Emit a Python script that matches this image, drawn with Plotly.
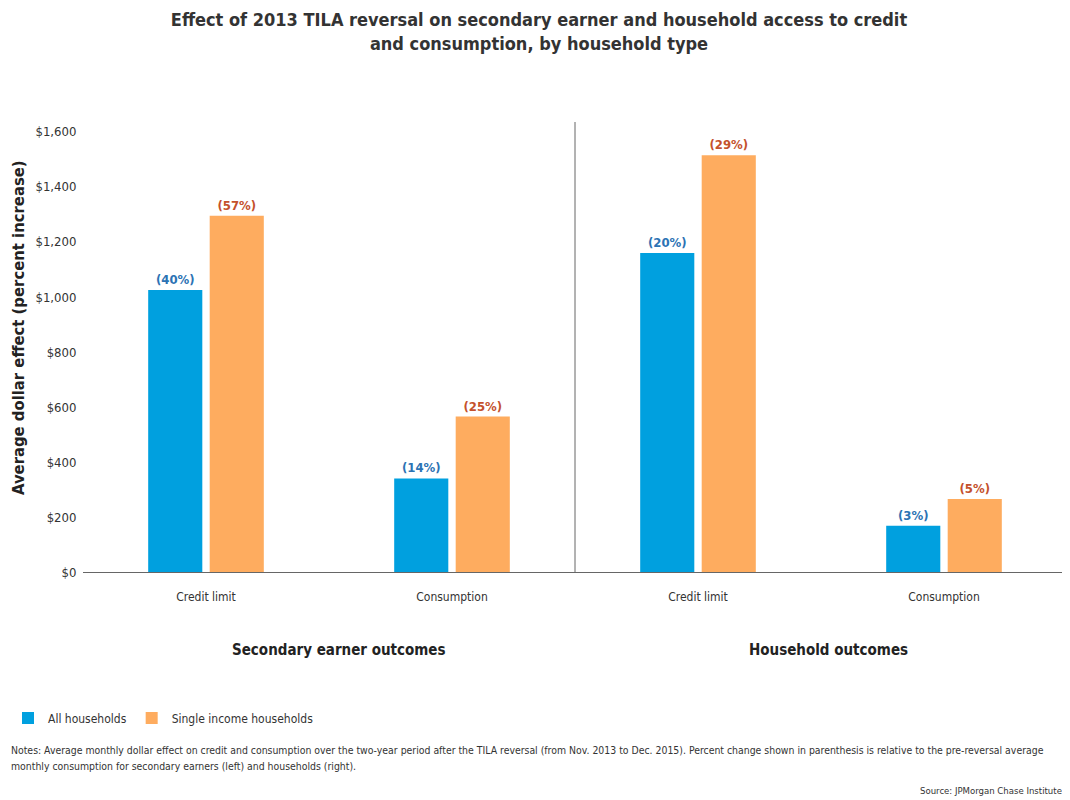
import plotly.graph_objects as go

groups = ["Secondary earner outcomes", "Household outcomes"]
categories = ["Credit limit", "Consumption", "Credit limit", "Consumption"]
category_group = [0, 0, 1, 1]
all_households = [1025, 340, 1160, 168]
single_income = [1295, 565, 1515, 265]
all_pct = ["(40%)", "(14%)", "(20%)", "(3%)"]
single_pct = ["(57%)", "(25%)", "(29%)", "(5%)"]
y_ticks = [0, 200, 400, 600, 800, 1000, 1200, 1400, 1600]
y_ticktext = ["$" + format(v, ",") for v in y_ticks]

FONT = "DejaVu Sans Condensed, Liberation Sans Narrow, sans-serif"

x_ids = [groups[g] + " | " + c for g, c in zip(category_group, categories)]

# page body adds an 8px margin, so the figure is laid out 8px smaller
OFF = 8
W, H = 1070 - OFF, 800 - OFF
L, T = 83 - OFF, 122 - OFF
PB = 572 - OFF            # plot bottom (px)
PR = 1067 - OFF           # plot right (px)
R, B = W - PR, H - PB
pw, ph = PR - L, PB - T


def py(y_screen):
    """paper y from reference screen pixel"""
    return (PB - (y_screen - OFF)) / ph


def px(x_screen):
    return ((x_screen - OFF) - L) / pw


fig = go.Figure()
fig.add_trace(go.Bar(
    x=x_ids, y=all_households, name="All households",
    marker=dict(color="#00a0df", line=dict(width=0)),
    text=all_pct, textposition="outside", cliponaxis=False,
    textfont=dict(color="#2c73b4", size=13, family=FONT, weight="bold"),
))
fig.add_trace(go.Bar(
    x=x_ids, y=single_income, name="Single income households",
    marker=dict(color="#feac5f", line=dict(width=0)),
    text=single_pct, textposition="outside", cliponaxis=False,
    textfont=dict(color="#c4512c", size=13, family=FONT, weight="bold"),
))

fig.update_layout(
    width=W, height=H,
    margin=dict(l=L, r=R, t=T, b=B, autoexpand=False),
    paper_bgcolor="white", plot_bgcolor="white",
    font=dict(family=FONT, color="#333333", size=13),
    barmode="group", bargap=0.5, bargroupgap=0.12,
    title=dict(
        text="Effect of 2013 TILA reversal on secondary earner and household access to credit<br>and consumption, by household type",
        x=0.5, xanchor="center", y=0.977, yanchor="top",
        font=dict(size=18, color="#333333", family=FONT, weight="bold"),
    ),
    xaxis=dict(
        tickmode="array", tickvals=x_ids, ticktext=categories,
        showline=True, linecolor="#666666", linewidth=1,
        ticks="outside", ticklen=14, tickcolor="rgba(0,0,0,0)",
        showgrid=False, zeroline=False,
        tickfont=dict(size=12, color="#333333"),
        range=[-0.5, 3.5],
    ),
    yaxis=dict(
        range=[0, 1636], tickvals=y_ticks, ticktext=y_ticktext,
        showgrid=False, zeroline=False, showline=False,
        ticks="outside", ticklen=3, tickcolor="rgba(0,0,0,0)",
        tickfont=dict(size=13, color="#333333"),
    ),
    legend=dict(
        orientation="h", x=px(OFF), xanchor="left",
        y=py(718), yanchor="middle",
        font=dict(size=12, color="#333333"),
        traceorder="normal",
    ),
    showlegend=True,
)

# y-axis title
fig.add_annotation(text="Average dollar effect (percent increase)",
                   xref="paper", yref="paper", x=px(18), y=py(328),
                   xanchor="center", yanchor="middle", textangle=-90,
                   showarrow=False,
                   font=dict(size=16.5, color="#222222", weight="bold"))

# divider between the two panels (category boundary)
fig.add_shape(type="line", xref="x", yref="paper", x0=1.5, x1=1.5, y0=0, y1=1,
              line=dict(color="#666666", width=1))

# group labels
for g, xs in zip(groups, [339, 828]):
    fig.add_annotation(text=g, xref="paper", yref="paper",
                       x=px(xs), y=py(650),
                       xanchor="center", yanchor="middle", showarrow=False,
                       font=dict(size=15, color="#222222", weight="bold"))

notes = [
    "Notes: Average monthly dollar effect on credit and consumption over the two-year period after the TILA reversal (from Nov. 2013 to Dec. 2015). Percent change shown in parenthesis is relative to the pre-reversal average",
    "monthly consumption for secondary earners (left) and households (right).",
]
for line, ys in zip(notes, [750, 766]):
    fig.add_annotation(
        text=line, xref="paper", yref="paper", x=px(OFF + 1), y=py(ys),
        xanchor="left", yanchor="middle", align="left", showarrow=False,
        font=dict(size=10.4, color="#333333"))
fig.add_annotation(
    text="Source: JPMorgan Chase Institute",
    xref="paper", yref="paper", x=px(1064), y=py(790),
    xanchor="right", yanchor="middle", showarrow=False,
    font=dict(size=9.5, color="#333333"))

fig.write_html("out.html")
